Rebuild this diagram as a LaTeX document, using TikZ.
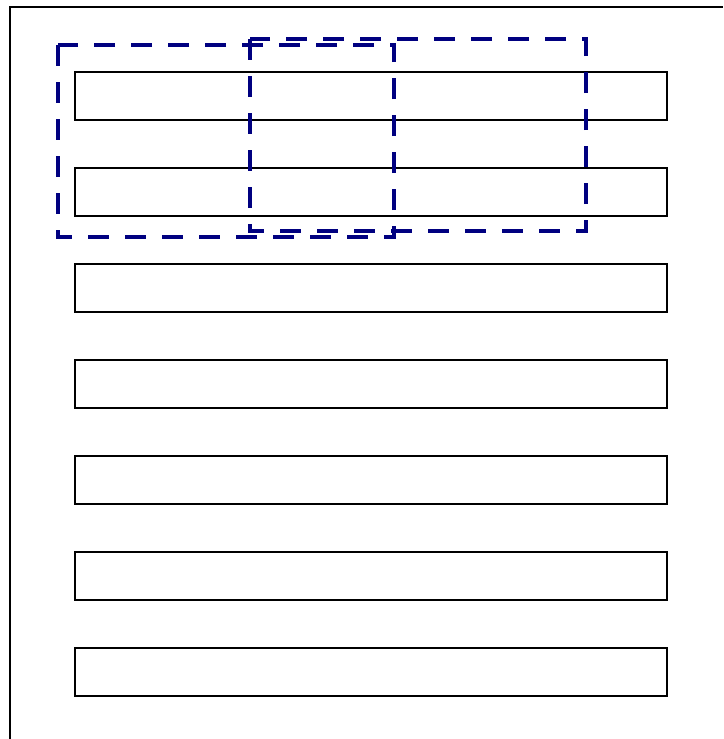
\documentclass[tikz,border=0pt]{standalone}
\definecolor{navyblue}{RGB}{0,0,128}
\tikzset{
  rowbox/.style={draw=black, line width=1.5pt, minimum width=592pt, minimum height=48pt, inner sep=0pt, anchor=north west},
  selbox/.style={draw=navyblue, line width=4.5pt, dash pattern=on 21pt off 16pt}
}
\begin{document}
\begin{tikzpicture}[x=1pt,y=-1pt]
\useasboundingbox (0,0) rectangle (723,739);
\coordinate (fbl) at (10,739);
\coordinate (ftl) at (10,7);
\coordinate (ftr) at (723,7);
\draw[line width=2.5pt] (fbl) -- (ftl) -- (ftr);
\foreach \i in {0,...,6}{
  \node[rowbox] (r\i) at (74,{71+96*\i}) {};
}
\coordinate (a1) at (58,45);
\coordinate (a2) at (394,237);
\coordinate (b1) at (250,39);
\coordinate (b2) at (586,231);
\draw[selbox] (a1) rectangle (a2);
\draw[selbox] (b1) rectangle (b2);
\end{tikzpicture}
\end{document}
